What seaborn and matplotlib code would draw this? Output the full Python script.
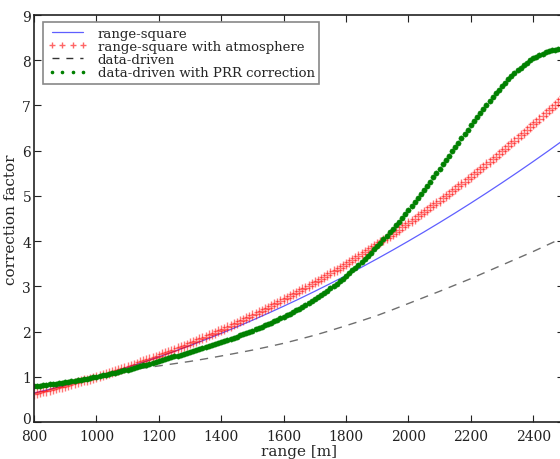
import matplotlib
matplotlib.use("Agg")
import matplotlib.pyplot as plt
import matplotlib.transforms as mtransforms
import seaborn as sns
import numpy as np
import pandas as pd
from matplotlib.lines import Line2D

# ---------------- data ----------------
range_fine = list(range(800, 2501, 10))      # marker series, 10 m step
range_coarse = list(range(800, 2501, 50))    # line series, 50 m step

range_square = [0.64, 0.7225, 0.81, 0.9025, 1.0, 1.1025, 1.21, 1.3225, 1.44, 1.5625,
                1.69, 1.8225, 1.96, 2.1025, 2.25, 2.4025, 2.56, 2.7225, 2.89, 3.0625,
                3.24, 3.4225, 3.61, 3.8025, 4.0, 4.2025, 4.41, 4.6225, 4.84, 5.0625,
                5.29, 5.5225, 5.76, 6.0025, 6.25]

data_driven = [0.790, 0.833, 0.880, 0.935, 1.000, 1.072, 1.140, 1.192, 1.240, 1.290,
               1.340, 1.398, 1.460, 1.524, 1.590, 1.663, 1.740, 1.828, 1.920, 2.022,
               2.130, 2.240, 2.355, 2.485, 2.620, 2.755, 2.890, 3.030, 3.170, 3.320,
               3.470, 3.620, 3.770, 3.930, 4.090]

range_square_atm = [
    0.6280, 0.6444, 0.6610, 0.6779, 0.6950, 0.7123, 0.7298, 0.7476, 0.7656, 0.7839,
    0.8023, 0.8210, 0.8400, 0.8592, 0.8786, 0.8982, 0.9181, 0.9382, 0.9586, 0.9792,
    1.0000, 1.0211, 1.0424, 1.0639, 1.0857, 1.1077, 1.1300, 1.1525, 1.1753, 1.1983,
    1.2216, 1.2451, 1.2688, 1.2928, 1.3170, 1.3415, 1.3662, 1.3912, 1.4164, 1.4419,
    1.4676, 1.4936, 1.5198, 1.5463, 1.5731, 1.6000, 1.6273, 1.6548, 1.6826, 1.7106,
    1.7388, 1.7674, 1.7962, 1.8252, 1.8545, 1.8841, 1.9139, 1.9440, 1.9744, 2.0050,
    2.0359, 2.0670, 2.0985, 2.1302, 2.1621, 2.1943, 2.2268, 2.2596, 2.2926, 2.3259,
    2.3594, 2.3933, 2.4274, 2.4618, 2.4964, 2.5313, 2.5665, 2.6020, 2.6378, 2.6738,
    2.7101, 2.7467, 2.7836, 2.8208, 2.8582, 2.8959, 2.9339, 2.9722, 3.0107, 3.0496,
    3.0887, 3.1281, 3.1679, 3.2078, 3.2481, 3.2887, 3.3295, 3.3707, 3.4121, 3.4538,
    3.4958, 3.5381, 3.5807, 3.6236, 3.6668, 3.7103, 3.7541, 3.7982, 3.8426, 3.8873,
    3.9322, 3.9775, 4.0231, 4.0690, 4.1152, 4.1617, 4.2084, 4.2555, 4.3030, 4.3507,
    4.3986, 4.4470, 4.4956, 4.5445, 4.5938, 4.6433, 4.6932, 4.7434, 4.7939, 4.8447,
    4.8958, 4.9473, 4.9990, 5.0511, 5.1035, 5.1562, 5.2092, 5.2625, 5.3162, 5.3702,
    5.4245, 5.4791, 5.5341, 5.5894, 5.6449, 5.7008, 5.7571, 5.8137, 5.8706, 5.9279,
    5.9854, 6.0433, 6.1016, 6.1601, 6.2190, 6.2782, 6.3378, 6.3977, 6.4579, 6.5185,
    6.5794, 6.6407, 6.7023, 6.7643, 6.8265, 6.8891, 6.9520, 7.0153, 7.0789, 7.1429,
    7.2073]

data_driven_prr = [
    0.790, 0.798, 0.806, 0.815, 0.824, 0.833, 0.842, 0.851, 0.860, 0.870,
    0.880, 0.890, 0.901, 0.912, 0.923, 0.935, 0.947, 0.960, 0.973, 0.986,
    1.000, 1.014, 1.029, 1.044, 1.060, 1.075, 1.091, 1.108, 1.125, 1.142,
    1.160, 1.178, 1.196, 1.215, 1.233, 1.252, 1.271, 1.291, 1.311, 1.330,
    1.350, 1.370, 1.390, 1.410, 1.430, 1.450, 1.470, 1.491, 1.511, 1.532,
    1.553, 1.574, 1.596, 1.617, 1.639, 1.660, 1.682, 1.704, 1.726, 1.748,
    1.770, 1.793, 1.817, 1.841, 1.865, 1.890, 1.915, 1.941, 1.967, 1.993,
    2.020, 2.048, 2.076, 2.105, 2.135, 2.165, 2.196, 2.227, 2.259, 2.292,
    2.325, 2.360, 2.395, 2.431, 2.468, 2.505, 2.544, 2.584, 2.624, 2.666,
    2.710, 2.756, 2.803, 2.852, 2.903, 2.955, 3.008, 3.062, 3.117, 3.173,
    3.230, 3.290, 3.351, 3.413, 3.476, 3.540, 3.607, 3.675, 3.744, 3.815,
    3.890, 3.964, 4.039, 4.115, 4.192, 4.270, 4.350, 4.431, 4.513, 4.596,
    4.680, 4.767, 4.855, 4.944, 5.036, 5.130, 5.223, 5.317, 5.411, 5.505,
    5.600, 5.696, 5.792, 5.888, 5.984, 6.080, 6.176, 6.272, 6.368, 6.464,
    6.560, 6.654, 6.747, 6.839, 6.930, 7.020, 7.106, 7.189, 7.270, 7.350,
    7.430, 7.504, 7.575, 7.644, 7.712, 7.780, 7.838, 7.893, 7.945, 7.994,
    8.040, 8.077, 8.110, 8.141, 8.171, 8.200, 8.218, 8.232, 8.242, 8.248,
    8.250]

labels = ["range-square", "range-square with atmosphere",
          "data-driven", "data-driven with PRR correction"]
x_ticks = [800, 1000, 1200, 1400, 1600, 1800, 2000, 2200, 2400]
y_ticks = [0, 1, 2, 3, 4, 5, 6, 7, 8, 9]

# ---------------- style ----------------
sns.set_style("ticks")
plt.rcParams["font.family"] = ["DejaVu Serif"]
plt.rcParams["axes.edgecolor"] = "#222222"
plt.rcParams["axes.linewidth"] = 1.2

fig = plt.figure(figsize=(5.6, 4.6), dpi=100)
ax = fig.add_axes([34 / 560, 37 / 460, 530.4 / 560, 407 / 460])

df_c = pd.DataFrame({"r": range_coarse, "rs": range_square, "dd": data_driven})
df_f = pd.DataFrame({"r": range_fine, "rsa": range_square_atm, "prr": data_driven_prr})

RED = "#ff0000"
GREEN = "#008000"
BLUE = "#2a2aff"

sns.lineplot(data=df_c, x="r", y="rs", ax=ax, color=BLUE, lw=0.9, alpha=0.75,
             legend=False)
sns.lineplot(data=df_f, x="r", y="rsa", ax=ax, color=RED, lw=0, alpha=0.55,
             marker="+", markersize=7.5, markeredgewidth=1.0,
             markeredgecolor=RED, markerfacecolor=RED, legend=False)
sns.lineplot(data=df_c, x="r", y="dd", ax=ax, color="#555555", lw=1.0, alpha=0.85,
             legend=False)
ax.lines[-1].set_dashes([6, 5])
sns.lineplot(data=df_f, x="r", y="prr", ax=ax, color=GREEN, lw=0,
             marker="o", markersize=3.8, markeredgewidth=0.3,
             markeredgecolor=GREEN, markerfacecolor=GREEN, legend=False)

ax.set_xlim(800, 2500)
ax.set_ylim(0, 9)
ax.set_xticks(x_ticks)
ax.set_yticks(y_ticks)
ax.tick_params(direction="in", length=5, width=0.8, labelsize=10,
               top=True, right=True, colors="#222222")
ax.tick_params(axis="x", pad=5)
ax.tick_params(axis="y", pad=2)
ax.set_xlabel("range [m]", fontsize=11, labelpad=1)
ax.set_ylabel("correction factor", fontsize=11, labelpad=3)

# the "0" label sits slightly above the corner, as in the reference
zero_lbl = ax.get_yticklabels()[0]
zero_lbl.set_transform(zero_lbl.get_transform() +
                       mtransforms.ScaledTranslation(0, 3 / 72, fig.dpi_scale_trans))

# legend handles mimicking the reference legend
handles = [
    Line2D([], [], color=BLUE, lw=0.9, alpha=0.75),
    Line2D([], [], color=RED, lw=0, marker="+", markersize=4, alpha=0.6,
           markeredgewidth=1.0),
    Line2D([], [], color="#333333", lw=1.0, dashes=[5, 5]),
    Line2D([], [], color=GREEN, lw=0, marker="o", markersize=1.6),
]
leg = ax.legend(handles, labels, loc="upper left", bbox_to_anchor=(0.017, 0.983),
                fontsize=9.5, numpoints=4, handlelength=3.0, handletextpad=0.8,
                labelspacing=0.02, borderpad=0.35, borderaxespad=0.0,
                fancybox=False, framealpha=1, edgecolor="#888888")
leg.get_frame().set_linewidth(1.2)

fig.savefig("out.png", dpi=100)
